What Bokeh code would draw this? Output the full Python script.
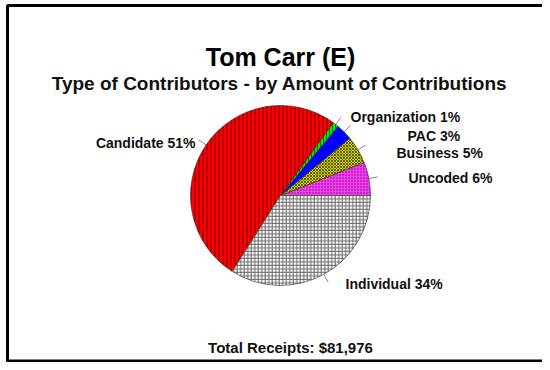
import numpy as np
from bokeh.plotting import figure
from bokeh.models import Range1d, ColumnDataSource
from bokeh.core.properties import value
from bokeh.embed import file_html
from bokeh.resources import INLINE

# ---- data ----
categories = ["Uncoded", "Business", "PAC", "Organization", "Candidate", "Individual"]
percents = [6, 5, 3, 1, 51, 34]
title_text = "Tom Carr (E)"
subtitle_text = "Type of Contributors - by Amount of Contributions"
total_text = "Total Receipts: $81,976"

# ---- styles ----
fills = ["#ff00ff", "#cccc00", "#0000ff", "#00ee00", "#ff0000", "#ffffff"]
hatches = ["+", "x", " ", "|", "|", "+"]
hatch_colors = ["#bb66bb", "#555500", "#000000", "#006600", "#660000", "#555555"]
hatch_scales = [3, 3, 4, 3, 4, 3.5]

W, H = 542, 362
FONT = value("Liberation Sans")

p = figure(width=W, height=H, output_backend="svg", toolbar_location=None,
           x_range=Range1d(0, W), y_range=Range1d(0, H), min_border=0)
p.axis.visible = False
p.grid.visible = False
p.outline_line_color = None
p.background_fill_color = "white"

def sy(y):  # screen-from-top -> data
    return H - y

cx, cy, r = 280, sy(195), 90

vals = np.array(percents, dtype=float)
frac = vals / vals.sum()
ends = np.cumsum(frac) * 2 * np.pi
starts = np.concatenate([[0], ends[:-1]])
mids = (starts + ends) / 2

src = ColumnDataSource(dict(start=starts, end=ends, fill=fills, hatch=hatches,
                            hcol=hatch_colors, hscale=hatch_scales))
p.wedge(x=cx, y=cy, radius=r, start_angle="start", end_angle="end", source=src,
        fill_color="fill", line_color="#333333", line_width=0.6,
        hatch_pattern="hatch", hatch_color="hcol", hatch_scale="hscale",
        hatch_weight=0.9)

# leader lines
x0 = cx + r * np.cos(mids)
y0 = cy + r * np.sin(mids)
x1 = cx + r * 1.1 * np.cos(mids)
y1 = cy + r * 1.1 * np.sin(mids)
p.segment(x0=x0, y0=y0, x1=x1, y1=y1, line_color="#888888", line_width=1)

# slice labels (layout positions, screen coords from top-left)
label_pos = {
    "Uncoded": (408, 177, "left"),
    "Business": (396, 152, "left"),
    "PAC": (407, 135, "left"),
    "Organization": (350, 116, "left"),
    "Candidate": (195, 142, "right"),
    "Individual": (345, 283, "left"),
}
for c, pc in zip(categories, percents):
    lx, ly, al = label_pos[c]
    p.text(x=[lx], y=[sy(ly)], text=[f"{c} {pc}%"], text_font=FONT,
           text_font_style="bold", text_font_size="14px", text_color="#111111",
           text_align=al, text_baseline="middle")

p.text(x=[280], y=[sy(56)], text=[title_text], text_font=FONT,
       text_font_style="bold", text_font_size="25px", text_color="#000000",
       text_align="center", text_baseline="middle")
p.text(x=[279], y=[sy(83)], text=[subtitle_text], text_font=FONT,
       text_font_style="bold", text_font_size="19px", text_color="#111111",
       text_align="center", text_baseline="middle")
p.text(x=[290], y=[sy(347)], text=[total_text], text_font=FONT,
       text_font_style="bold", text_font_size="15px", text_color="#111111",
       text_align="center", text_baseline="middle")

# frame border (left, top, bottom)
p.line(x=[W, 7, 7, W], y=[sy(5), sy(5), sy(360.5), sy(360.5)],
       line_color="black", line_width=3)

open("out.html", "w").write(file_html(p, INLINE))
